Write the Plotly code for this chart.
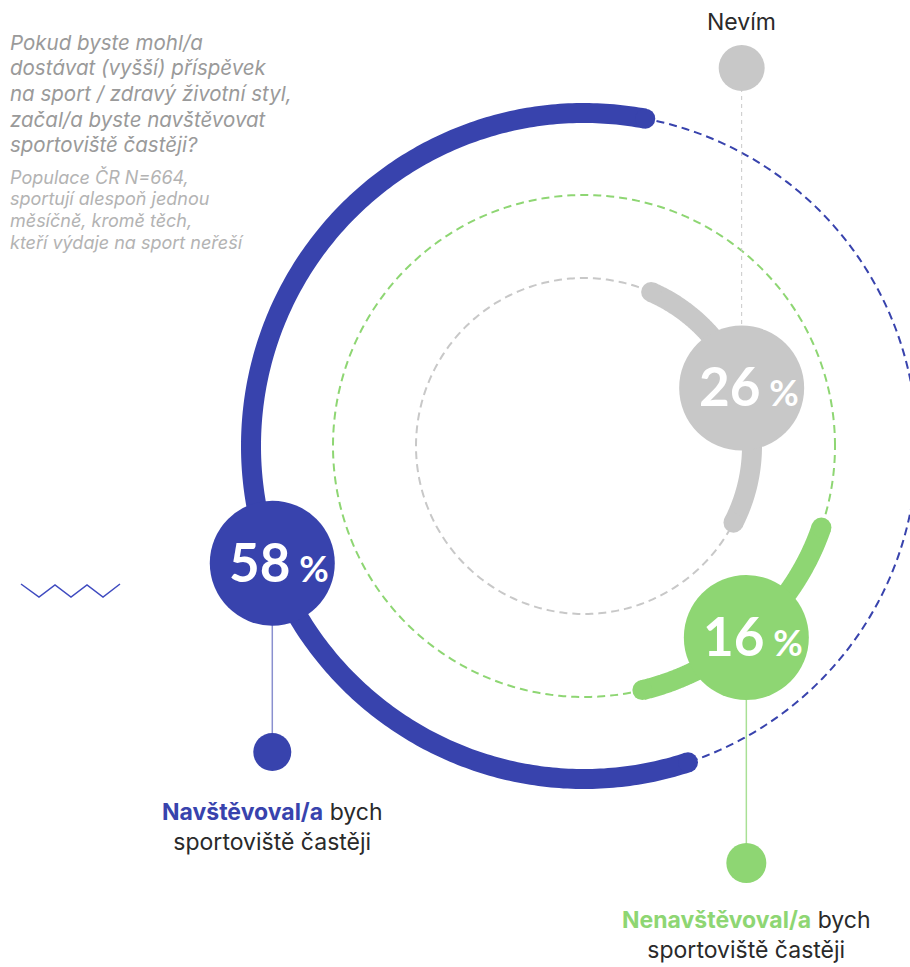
import numpy as np
import plotly.graph_objects as go

# data
answers = ["Navštěvoval/a bych sportoviště častěji",
           "Nenavštěvoval/a bych sportoviště častěji",
           "Nevím"]
values = [58, 16, 26]
bold_part = ["Navštěvoval/a", "Nenavštěvoval/a", ""]
rest_part = [" bych<br>sportoviště častěji", " bych<br>sportoviště častěji", "Nevím"]

question_lines = ["Pokud byste mohl/a", "dostávat (vyšší) příspěvek",
                  "na sport / zdravý životní styl,", "začal/a byste navštěvovat",
                  "sportoviště častěji?"]
base_lines = ["Populace ČR N=664,", "sportují alespoň jednou",
              "měsíčně, kromě těch,", "kteří výdaje na sport neřeší"]

# styling / layout
colors = ["#3843ad", "#8ed673", "#c8c8c8"]
leader_colors = ["#8a90cf", "#a9e095", "#c8c8c8"]
CX, CY = 584, 446
radii = [333, 251, 168]
mid_angle = [183.8, -47.75, 19.65]     # where each arc is centred (deg)
label_angle = [200.6, -49.7, 20.2]     # where the % bubble sits on the arc
dot_y = [752, 863, 68]
dot_size = [38, 40, 46]
text_y = [827, 935, 22]
FONT = "Inter"
NUM_FONT = "Lato"

fig = go.Figure()


def pos(r, ang):
    a = np.radians(ang)
    return CX + r * np.cos(a), CY - r * np.sin(a)


# dashed tracks
full = np.linspace(0, 360, 400)
for r, c in zip(radii, colors):
    x, y = pos(r, full)
    fig.add_trace(go.Scatter(x=x, y=y, mode="lines", hoverinfo="skip",
                             line=dict(color=c, width=2, dash="8px,5px", simplify=False)))

# leader lines
for i, c in enumerate(leader_colors):
    lx, ly = pos(radii[i], label_angle[i])
    fig.add_trace(go.Scatter(
        x=[lx, lx], y=[ly, dot_y[i]], mode="lines", hoverinfo="skip",
        line=dict(color=c, width=1.5 if i < 2 else 1,
                  dash="solid" if i < 2 else "4px,4px")))

# value arcs
for i, v in enumerate(values):
    span = v * 3.6
    th = np.linspace(mid_angle[i] - span / 2, mid_angle[i] + span / 2, 300)
    x, y = pos(radii[i], th)
    fig.add_trace(go.Scatter(x=x, y=y, mode="lines", hoverinfo="skip",
                             line=dict(color=colors[i], width=20, simplify=False)))
    fig.add_trace(go.Scatter(x=[x[0], x[-1]], y=[y[0], y[-1]], mode="markers",
                             hoverinfo="skip",
                             marker=dict(color=colors[i], size=20, line_width=0)))

# bubbles and end dots
for i, v in enumerate(values):
    lx, ly = pos(radii[i], label_angle[i])
    fig.add_trace(go.Scatter(x=[lx], y=[ly], mode="markers", hoverinfo="skip",
                             marker=dict(color=colors[i], size=125, line_width=0)))
    fig.add_trace(go.Scatter(x=[lx], y=[dot_y[i]], mode="markers", hoverinfo="skip",
                             marker=dict(color=colors[i], size=dot_size[i], line_width=0)))
    fig.add_annotation(x=lx, y=ly, xshift=7, yshift=2, showarrow=False,
                       text=f"<b>{v}</b><span style='font-size:36px'><b> %</b></span>",
                       font=dict(family=NUM_FONT, size=53, color="white"))
    if bold_part[i]:
        txt = f"<span style='color:{colors[i]}'><b>{bold_part[i]}</b></span>{rest_part[i]}"
    else:
        txt = rest_part[i]
    fig.add_annotation(x=lx, y=text_y[i], showarrow=False, align="center",
                       text=txt, font=dict(family=FONT, size=23, color="#2a2a2a"))

# question and base, one annotation per line for tight leading
for k, line in enumerate(question_lines):
    fig.add_annotation(x=8, y=42 + 25.7 * k, xanchor="left", yanchor="middle",
                       showarrow=False, text=f"<i>{line}</i>",
                       font=dict(family=FONT, size=20.5, color="#9a9a9a"))
for k, line in enumerate(base_lines):
    fig.add_annotation(x=8, y=177 + 21.7 * k, xanchor="left", yanchor="middle",
                       showarrow=False, text=f"<i>{line}</i>",
                       font=dict(family=FONT, size=18, color="#b3b3b3"))

# zigzag ornament
fig.add_shape(type="path", path="M21,584 L39,597 L55,585 L71,597 L87,585 L103,597 L120,584",
              line=dict(color="#3f4bc0", width=1.5))

fig.update_layout(
    width=910, height=967,
    margin=dict(l=0, r=0, t=0, b=0),
    paper_bgcolor="white", plot_bgcolor="white",
    showlegend=False,
    xaxis=dict(range=[0, 910], visible=False, fixedrange=True),
    yaxis=dict(range=[967, 0], visible=False, fixedrange=True),
)

fig.write_html("out.html", config={"displayModeBar": False},
               post_script="document.body.style.margin='0';")
